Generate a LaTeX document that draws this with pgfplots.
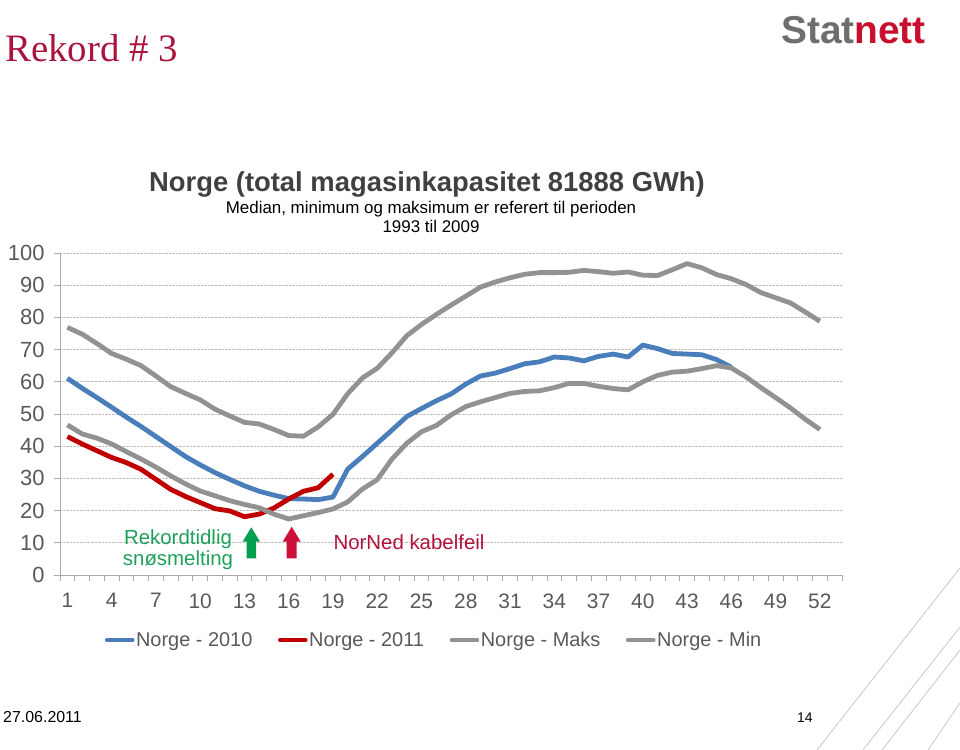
\documentclass[border=0pt]{standalone}
\usepackage{fontspec}
\setmainfont{Liberation Sans}
\newfontfamily\seriffont{Liberation Serif}
\usepackage{pgfplots}
\pgfplotsset{compat=1.18}
\definecolor{cblue}{RGB}{74,126,187}
\definecolor{cred}{RGB}{192,0,0}
\definecolor{cgray}{RGB}{146,146,146}
\definecolor{tickgray}{RGB}{89,89,89}
\definecolor{axgray}{RGB}{170,170,170}
\definecolor{gridgray}{RGB}{190,190,190}
\definecolor{titlegray}{RGB}{64,64,64}
\definecolor{rekred}{RGB}{170,20,60}
\definecolor{logogray}{RGB}{109,110,112}
\definecolor{logored}{RGB}{200,16,46}
\definecolor{agreen}{RGB}{0,160,80}
\definecolor{tgreen}{RGB}{30,160,90}
\definecolor{ared}{RGB}{205,16,56}
\definecolor{tred}{RGB}{176,18,58}
\definecolor{declin}{RGB}{200,200,200}
\begin{document}
\begin{tikzpicture}
\useasboundingbox (0,0) rectangle (960bp,750bp);
% decorative lines
\draw[declin, line width=0.8bp] (960bp,182bp) -- (817bp,0bp);
\draw[declin, line width=0.8bp] (960bp,123bp) -- (863bp,0bp);
\draw[declin, line width=0.8bp] (960bp,100bp) -- (882bp,0bp);
\draw[declin, line width=0.8bp] (960bp,47bp) -- (928bp,0bp);
% headings
\node[anchor=base west, inner sep=0, text=rekred, font=\seriffont\fontsize{39}{39}\selectfont] at (5bp,688bp) {Rekord \# 3};
\node[anchor=base west, inner sep=0, font=\bfseries\fontsize{39}{39}\selectfont] at (781bp,706bp) {\textcolor{logogray}{Stat}\textcolor{logored}{nett}};
\node[anchor=base, inner sep=0, text=titlegray, font=\bfseries\fontsize{27.5}{27.5}\selectfont] at (427bp,558bp) {Norge (total magasinkapasitet 81888 GWh)};
\node[anchor=base, inner sep=0, font=\fontsize{17}{17}\selectfont] at (431bp,536bp) {Median, minimum og maksimum er referert til perioden};
\node[anchor=base, inner sep=0, font=\fontsize{17}{17}\selectfont] at (431bp,517bp) {1993 til 2009};
% footer
\node[anchor=base west, inner sep=0, font=\fontsize{16}{16}\selectfont] at (3bp,28bp) {27.06.2011};
\node[anchor=base west, inner sep=0, font=\fontsize{14}{14}\selectfont] at (797bp,28bp) {14};
\begin{axis}[
  at={(60bp,175bp)}, anchor=south west,
  scale only axis, width=782bp, height=322bp,
  xmin=0.5, xmax=53.5, ymin=0, ymax=100,
  axis x line*=bottom, axis y line*=left,
  axis line style={draw=axgray, line width=0.8bp},
  xtick={1,4,...,52},
  minor xtick={0.5,1.5,...,53.5},
  major x tick style={draw=none},
  minor x tick style={draw=axgray, line width=0.8bp},
  major y tick style={draw=axgray, line width=0.8bp},
  tick align=outside,
  major tick length=6bp, minor tick length=6bp,
  ytick={0,10,...,100},
  ymajorgrids,
  grid style={densely dotted, draw=gridgray, line width=0.9bp},
  /pgf/number format/assume math mode=true,
  ticklabel style={text=tickgray},
  yticklabel style={font=\fontsize{22}{22}\selectfont, xshift=-6bp},
  xticklabel style={font=\fontsize{21}{21}\selectfont, yshift=-9bp},
  legend style={at={(0.478,-0.202)}, anchor=center, draw=none, fill=none,
    legend columns=4, font=\fontsize{20}{20}\selectfont, text=tickgray,
    /tikz/every even column/.append style={column sep=24bp},
    nodes={inner xsep=1.5bp}},
  legend image code/.code={\draw[#1, line cap=round] (0bp,0bp) -- (25bp,0bp);},
  every axis plot/.append style={line width=4.8bp, line join=round, no marks},
  clip=false,
]
\addplot[cblue] coordinates {
(1,61.1)(2,58.0)(3,55.1)(4,52.1)(5,49.0)(6,46.1)(7,43.0)(8,39.9)(9,36.8)(10,34.2)
(11,31.8)(12,29.7)(13,27.7)(14,26.0)(15,24.8)(16,23.7)(17,23.6)(18,23.4)(19,24.2)(20,32.9)
(21,36.8)(22,40.9)(23,45.0)(24,49.2)(25,51.7)(26,54.1)(27,56.2)(28,59.3)(29,61.8)(30,62.7)
(31,64.1)(32,65.6)(33,66.2)(34,67.7)(35,67.4)(36,66.5)(37,67.9)(38,68.6)(39,67.7)(40,71.4)
(41,70.3)(42,68.8)(43,68.6)(44,68.4)(45,66.9)(46,64.5)};
\addlegendentry{Norge - 2010}
\addplot[cred] coordinates {
(1,43.0)(2,40.7)(3,38.6)(4,36.5)(5,34.9)(6,32.8)(7,29.7)(8,26.6)(9,24.4)(10,22.5)
(11,20.6)(12,19.9)(13,18.1)(14,18.9)(15,20.8)(16,23.6)(17,26.0)(18,27.1)(19,31.3)};
\addlegendentry{Norge - 2011}
\addplot[cgray] coordinates {
(1,76.9)(2,74.8)(3,71.9)(4,68.8)(5,67.0)(6,65.0)(7,61.8)(8,58.5)(9,56.4)(10,54.4)
(11,51.5)(12,49.4)(13,47.4)(14,46.9)(15,45.2)(16,43.3)(17,43.1)(18,46.0)(19,49.9)(20,56.3)
(21,61.2)(22,64.2)(23,69.0)(24,74.3)(25,77.8)(26,80.9)(27,83.8)(28,86.6)(29,89.4)(30,91.0)
(31,92.3)(32,93.4)(33,93.9)(34,93.9)(35,94.0)(36,94.6)(37,94.2)(38,93.7)(39,94.1)(40,93.1)
(41,93.0)(42,94.8)(43,96.7)(44,95.4)(45,93.3)(46,92.0)(47,90.2)(48,87.7)(49,86.1)(50,84.5)
(51,81.7)(52,78.8)};
\addlegendentry{Norge - Maks}
\addplot[cgray] coordinates {
(1,46.6)(2,43.8)(3,42.5)(4,40.7)(5,38.3)(6,36.0)(7,33.5)(8,30.8)(9,28.3)(10,26.1)
(11,24.6)(12,23.1)(13,21.9)(14,20.9)(15,18.9)(16,17.4)(17,18.4)(18,19.4)(19,20.5)(20,22.7)
(21,26.7)(22,29.6)(23,36.0)(24,40.9)(25,44.5)(26,46.4)(27,49.7)(28,52.3)(29,53.8)(30,55.1)
(31,56.4)(32,57.0)(33,57.2)(34,58.2)(35,59.5)(36,59.5)(37,58.6)(38,57.9)(39,57.5)(40,60.0)
(41,62.0)(42,63.0)(43,63.3)(44,64.1)(45,65.0)(46,64.3)(47,61.5)(48,58.2)(49,55.1)(50,51.9)
(51,48.4)(52,45.2)};
\addlegendentry{Norge - Min}
\end{axis}
% annotations
\fill[agreen] (251.3bp,222.7bp) -- (260bp,208.3bp) -- (256bp,208.3bp) -- (256bp,191.7bp) -- (246.6bp,191.7bp) -- (246.6bp,208.3bp) -- (242.6bp,208.3bp) -- cycle;
\fill[ared] (291.7bp,223.3bp) -- (300.7bp,208.3bp) -- (296.7bp,208.3bp) -- (296.7bp,191.7bp) -- (286.7bp,191.7bp) -- (286.7bp,208.3bp) -- (282.7bp,208.3bp) -- cycle;
\node[anchor=base, inner sep=0, text=tgreen, font=\fontsize{20.5}{20.5}\selectfont] at (178bp,205bp) {Rekordtidlig};
\node[anchor=base, inner sep=0, text=tgreen, font=\fontsize{20.5}{20.5}\selectfont] at (178bp,184bp) {snøsmelting};
\node[anchor=base, inner sep=0, text=tred, font=\fontsize{20.5}{20.5}\selectfont] at (409bp,200bp) {NorNed kabelfeil};
\end{tikzpicture}
\end{document}
